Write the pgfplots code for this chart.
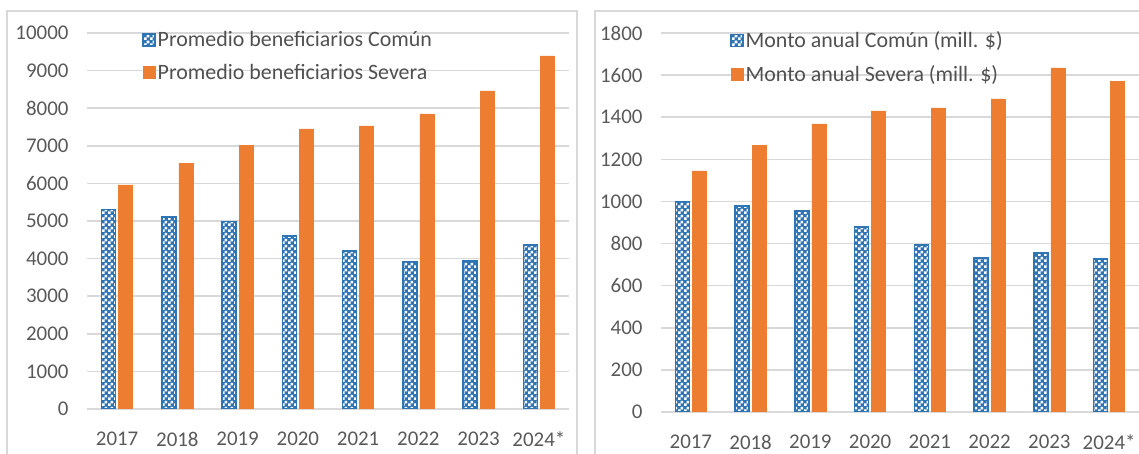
\documentclass[border=0pt]{standalone}
\usepackage{pgfplots}
\pgfplotsset{compat=1.18}
\usepackage{fontspec}
\setmainfont{Carlito}
\usetikzlibrary{patterns}

\definecolor{comun}{HTML}{2E75B6}
\definecolor{severa}{HTML}{ED7D31}
\definecolor{gridc}{HTML}{D9D9D9}
\definecolor{tickc}{HTML}{595959}
\definecolor{legc}{HTML}{505050}

% checkerboard with 3bp squares
\pgfdeclarepatternformonly{checker}{\pgfpointorigin}{\pgfqpoint{6bp}{6bp}}{\pgfqpoint{6bp}{6bp}}{%
\pgfpathrectangle{\pgfpointorigin}{\pgfqpoint{3bp}{3bp}}%
\pgfpathrectangle{\pgfqpoint{3bp}{3bp}}{\pgfqpoint{3bp}{3bp}}%
\pgfusepath{fill}}

\pgfplotsset{
panel/.style={
  scale only axis,
  ymin=0, xmin=-0.5, xmax=7.5,
  xtick={0,...,7},
  xticklabels={2017,2018,2019,2020,2021,2022,2023,2024*},
  axis line style={draw=none},
  major tick style={draw=none},
  ymajorgrids,
  major grid style={gridc, line width=1.5bp},
  ybar=3bp, bar width=14bp,
  scaled y ticks=false,
  /pgf/number format/1000 sep={},
  /pgf/number format/assume math mode=true,
  tick label style={font=\fontsize{21}{25}\selectfont, text=tickc},
  yticklabel style={xshift=-15bp},
  xticklabel style={yshift=-15bp},
  legend style={draw=none, fill=none, anchor=north west,
    font=\fontsize{22}{26}\selectfont, text=legc,
    legend cell align=left, row sep=12bp},
  legend image code/.code={\draw[##1] (0bp,-6bp) rectangle (12bp,6bp);},
},
comunbar/.style={draw=comun, line width=1.5bp, fill=comun,
  postaction={pattern=checker, pattern color=white}},
severabar/.style={draw=severa, line width=0.5bp, fill=severa},
}

\begin{document}
\begin{tikzpicture}
\useasboundingbox (0,0) rectangle (1139bp,454bp);
\clip (0,0) rectangle (1139bp,454bp);

% panel frames
\draw[gridc, line width=1.5bp] (7bp,-5bp) |- (577bp,443bp) -- (577bp,-5bp);
\draw[gridc, line width=1.5bp] (595bp,-5bp) |- (1150bp,443bp);

\begin{axis}[panel,
  at={(87bp,45bp)}, anchor=south west,
  width=482bp, height=376bp,
  ymax=10000, ytick distance=1000,
  legend style={at={(0.108,1.015)}},
]
\addplot[comunbar] coordinates {
(0,5300) (1,5100) (2,4980) (3,4600) (4,4200) (5,3920) (6,3940) (7,4360)};
\addlegendentry{Promedio beneficiarios Común}
\addplot[severabar] coordinates {
(0,5960) (1,6540) (2,7020) (3,7450) (4,7530) (5,7850) (6,8460) (7,9390)};
\addlegendentry{Promedio beneficiarios Severa}
\end{axis}

\begin{axis}[panel,
  at={(661bp,42bp)}, anchor=south west,
  width=478bp, height=379bp,
  ymax=1800, ytick distance=200,
  legend style={at={(0.138,1.015)}},
]
\addplot[comunbar] coordinates {
(0,1000) (1,979) (2,955) (3,879) (4,793) (5,732) (6,755) (7,727)};
\addlegendentry{Monto anual Común (mill. \$)}
\addplot[severabar] coordinates {
(0,1145) (1,1268) (2,1368) (3,1430) (4,1444) (5,1487) (6,1634) (7,1572)};
\addlegendentry{Monto anual Severa (mill. \$)}
\end{axis}
\end{tikzpicture}
\end{document}
